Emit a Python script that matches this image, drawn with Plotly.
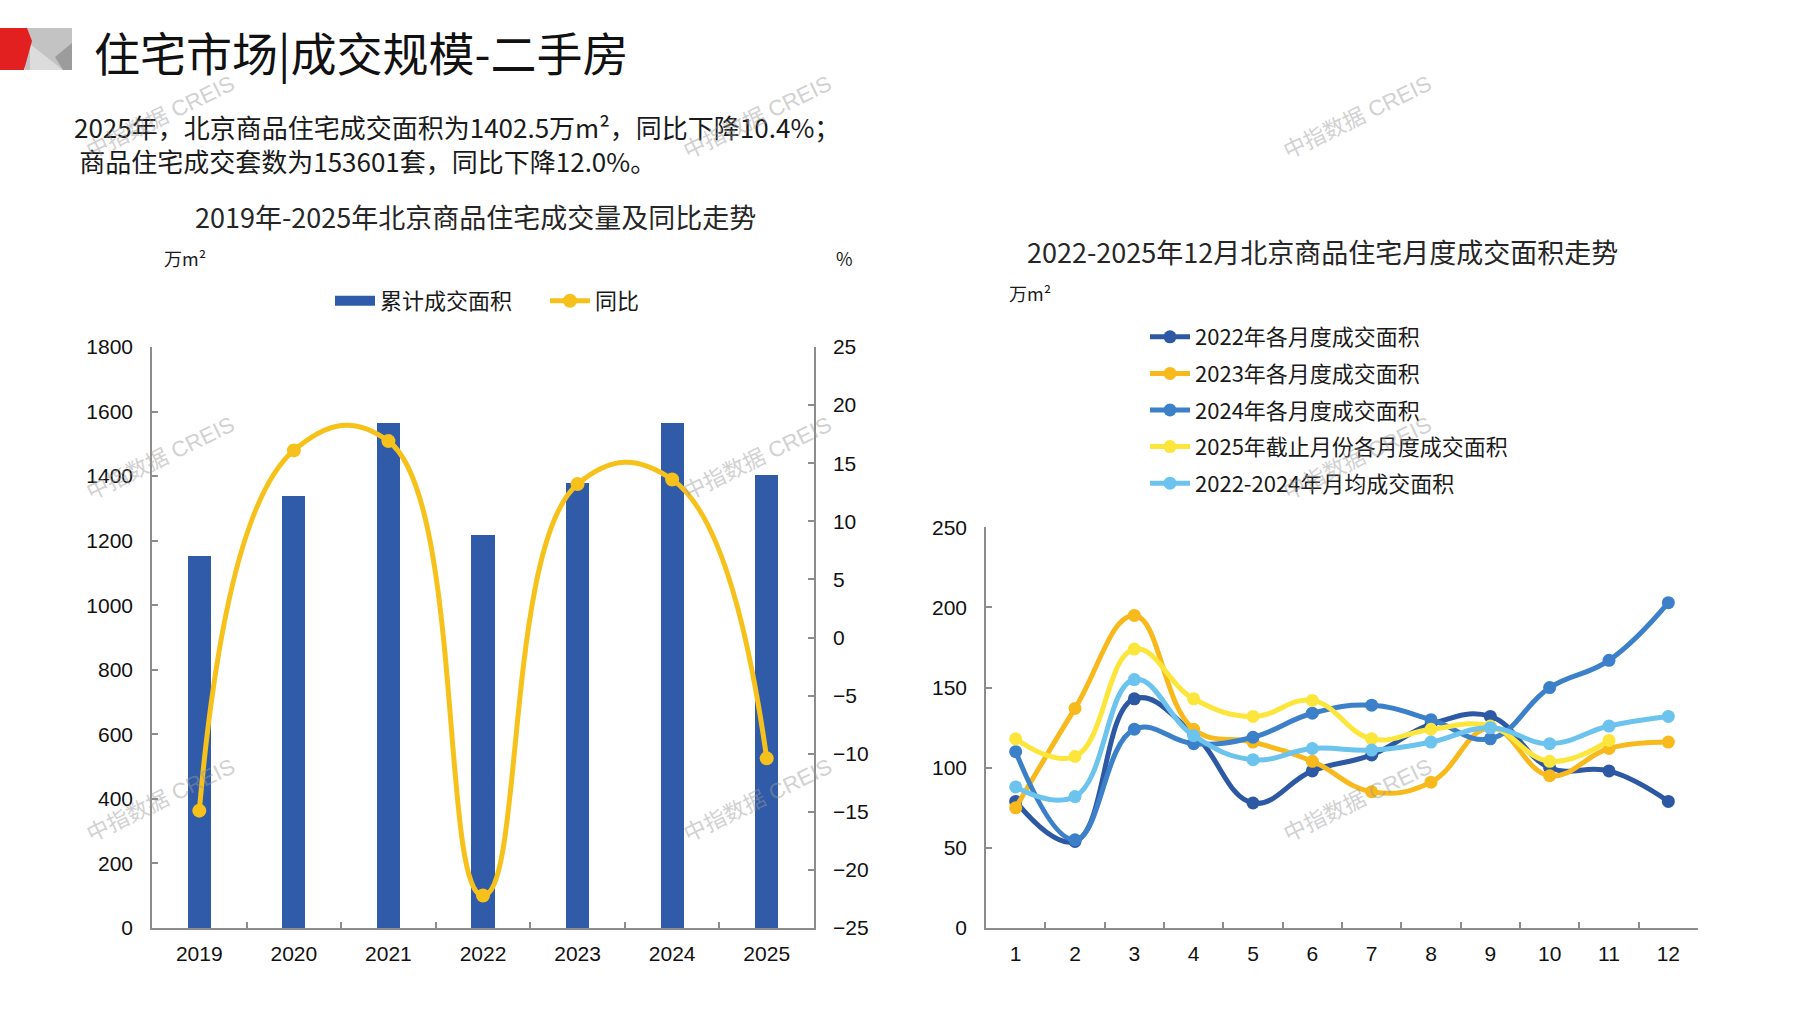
import plotly.graph_objects as go

W, H = 1797, 1010

# ---------------- data ----------------
years = ["2019", "2020", "2021", "2022", "2023", "2024", "2025"]
area_total = [1152, 1338, 1565, 1217, 1378, 1565.3, 1402.5]      # 万m²
yoy = [-14.9, 16.1, 16.9, -22.2, 13.2, 13.6, -10.4]               # %

months = ["1", "2", "3", "4", "5", "6", "7", "8", "9", "10", "11", "12"]
m2022 = [79, 54, 143, 121, 78, 98, 108, 127, 132, 100, 98, 79]
m2023 = [75, 137, 195, 124, 116, 104, 85, 91, 125, 95, 112, 116]
m2024 = [110, 55, 124, 115, 119, 134, 139, 130, 118, 150, 167, 203]
m2025 = [118, 107, 174, 143, 132, 142, 118, 124, 126, 104, 117]
mavg = [88, 82, 155, 120, 105, 112, 111, 116, 125, 115, 126, 132]

left_ticks = [0, 200, 400, 600, 800, 1000, 1200, 1400, 1600, 1800]
right_ticks = [-25, -20, -15, -10, -5, 0, 5, 10, 15, 20, 25]
month_ticks = [0, 50, 100, 150, 200, 250]


def px(x):
    return x / W


def py(y):
    return 1 - y / H


CJK = "Noto Sans CJK SC"
NUM = "Liberation Sans, Arial, sans-serif"
AXC = "#8C8C8C"
BAR_C = "#2F5BA8"
YOY_C = "#F7C11B"

fig = go.Figure()

# ---------------- left chart ----------------
fig.add_trace(go.Bar(
    x=years, y=area_total, name="累计成交面积",
    marker=dict(color=BAR_C, line=dict(width=0)),
    width=0.245, xaxis="x", yaxis="y", showlegend=False,
))
# legend-only entry drawn as a wide swatch, like the reference
fig.add_trace(go.Scatter(
    x=[None], y=[None], name="累计成交面积", mode="lines",
    line=dict(color=BAR_C, width=13), xaxis="x", yaxis="y", legend="legend",
))
fig.add_trace(go.Scatter(
    x=years, y=yoy, name="同比", mode="lines+markers",
    line=dict(color=YOY_C, width=5, shape="spline", smoothing=1.3),
    marker=dict(color=YOY_C, size=14),
    xaxis="x", yaxis="y2", legend="legend",
))

# ---------------- right chart ----------------
series = [
    ("2022年各月度成交面积", m2022, "#2D58A3"),
    ("2023年各月度成交面积", m2023, "#F8B91C"),
    ("2024年各月度成交面积", m2024, "#3C80CA"),
    ("2025年截止月份各月度成交面积", m2025, "#FDE63C"),
    ("2022-2024年月均成交面积", mavg, "#6CC3EE"),
]
for i, (nm, vals, col) in enumerate(series):
    fig.add_trace(go.Scatter(
        x=months[:len(vals)], y=vals, name=nm, mode="lines+markers",
        line=dict(color=col, width=5, shape="spline", smoothing=1.2),
        marker=dict(color=col, size=13),
        xaxis="x2", yaxis="y3", legend="legend2", legendgroup=f"g{i}",
    ))

axis_common = dict(
    showgrid=False, zeroline=False, showline=True, linecolor=AXC, linewidth=1.5,
    ticks="inside", ticklen=6, tickcolor=AXC, tickwidth=1.5, automargin=False,
    tickfont=dict(family=NUM, size=21, color="#111111"),
)

fig.update_layout(
    width=W, height=H,
    margin=dict(l=0, r=0, t=0, b=0, autoexpand=False),
    paper_bgcolor="white", plot_bgcolor="white",
    font=dict(family=CJK, color="#1a1a1a"),
    bargap=0,
    xaxis=dict(
        domain=[px(152), px(814)], type="category", range=[-0.5, 6.5],
        tickson="boundaries", anchor="y", ticklabelstandoff=6, **axis_common,
    ),
    yaxis=dict(
        domain=[py(928), py(347)], range=[0, 1800], tickvals=left_ticks,
        anchor="x", ticklabelstandoff=13, **axis_common,
    ),
    yaxis2=dict(
        overlaying="y", side="right", range=[-25, 25], tickvals=right_ticks,
        anchor="x", ticklabelstandoff=13, **axis_common,
    ),
    xaxis2=dict(
        domain=[px(986), px(1698)], type="category", range=[-0.5, 11.5],
        tickson="boundaries", anchor="y3", ticklabelstandoff=6, **axis_common,
    ),
    yaxis3=dict(
        domain=[py(928), py(527.3)], range=[0, 250], tickvals=month_ticks,
        anchor="x2", ticklabelstandoff=13, **axis_common,
    ),
    legend=dict(
        orientation="h", x=px(330), xanchor="left", y=py(301), yanchor="middle",
        font=dict(family=CJK, size=22, color="#1a1a1a"),
        bgcolor="rgba(0,0,0,0)", itemwidth=40, entrywidth=160,
    ),
    legend2=dict(
        orientation="v", x=px(1145), xanchor="left", y=py(316), yanchor="top",
        font=dict(family=CJK, size=22, color="#1a1a1a"),
        bgcolor="rgba(0,0,0,0)", tracegroupgap=5, itemwidth=40,
    ),
    showlegend=True,
)

# ---------------- header logo ----------------
def poly(points, color):
    path = "M " + " L ".join(f"{px(x)},{py(y)}" for x, y in points) + " Z"
    fig.add_shape(type="path", path=path, xref="paper", yref="paper",
                  fillcolor=color, line=dict(width=0), layer="above")

poly([(25, 28), (72, 28), (72, 70), (25, 70)], "#C3C3C3")
poly([(30, 44), (63, 70), (30, 70)], "#DCDCDC")
poly([(55, 57), (72, 43), (72, 70), (63, 70)], "#9C9C9C")
poly([(0, 28), (27, 28), (32, 41), (24, 70), (0, 70)], "#E1201F")

# ---------------- texts ----------------
def text(x, y, s, size, anchor="left", color="#1a1a1a", family=CJK, angle=0, opacity=1):
    fig.add_annotation(x=px(x), y=py(y), xref="paper", yref="paper", text=s,
                       showarrow=False, xanchor=anchor, yanchor="middle", align="left",
                       font=dict(family=family, size=size, color=color),
                       textangle=angle, opacity=opacity)

text(92, 51, "住宅市场|成交规模-二手房", 46, color="#111111")
text(72, 143, "2025年，北京商品住宅成交面积为1402.5万m²，同比下降10.4%；<br>"
              "\u2009商品住宅成交套数为153601套，同比下降12.0%。", 26)
text(476, 217, "2019年-2025年北京商品住宅成交量及同比走势", 27, anchor="center", color="#262626")
text(1322, 251, "2022-2025年12月北京商品住宅月度成交面积走势", 27, anchor="center", color="#262626")
text(185, 258, "万m²", 18, anchor="center")
text(844, 258, "%", 18, anchor="center")
text(1030, 293, "万m²", 18, anchor="center")

# watermarks
for wx in (160, 757, 1357):
    for wy in (118, 459, 800):
        text(wx, wy, "中指数据 CREIS", 22, anchor="center", color="#9A9A9A",
             family="Liberation Sans, " + CJK, angle=-26, opacity=0.45)

fig.write_html(
    "out.html",
    config={"displayModeBar": False},
    post_script="document.body.style.margin='0';document.body.style.overflow='hidden';",
)
